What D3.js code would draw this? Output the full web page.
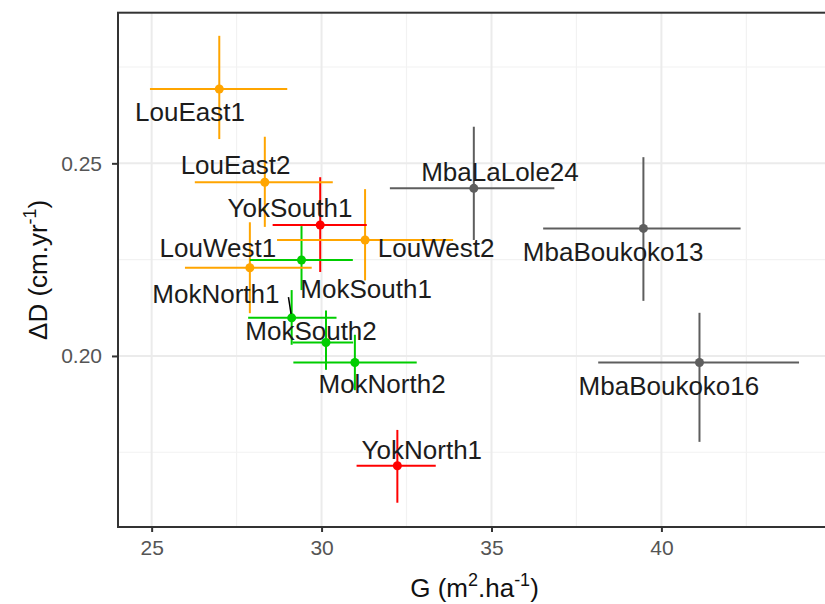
<!DOCTYPE html>
<meta charset="utf-8">
<style>
body { margin: 0; background: #fff; }
text { font-family: "Liberation Sans", Arial, sans-serif; }
</style>
<body>
<script src="https://d3js.org/d3.v7.min.js"></script>
<script>

var width = 825,
    height = 604;

// plot data
var sites  = ["LouEast1", "LouEast2", "YokSouth1", "LouWest2", "MokSouth1", "LouWest1", "MokNorth1",
              "MokSouth2", "MokNorth2", "YokNorth1", "MbaLaLole24", "MbaBoukoko13", "MbaBoukoko16"];
var groups = ["Lou", "Lou", "Yok", "Lou", "Mok", "Lou", "Mok", "Mok", "Mok", "Yok", "Mba", "Mba", "Mba"];
var gMean  = [26.99, 28.33, 29.96, 31.28, 29.41, 27.89, 29.12, 30.13, 30.98, 32.23, 34.48, 39.47, 41.12];
var gLow   = [24.95, 26.27, 28.56, 28.69, 27.89, 25.98, 27.84, 29.15, 29.17, 31.03, 32.01, 36.52, 38.14];
var gHigh  = [28.99, 30.33, 31.33, 33.87, 30.92, 29.71, 30.44, 30.93, 32.80, 33.36, 36.85, 42.33, 44.05];
var dMean  = [0.2693, 0.2451, 0.2340, 0.2301, 0.2249, 0.2229, 0.2099, 0.2035, 0.1983, 0.1715, 0.2435, 0.2331, 0.1983];
var dLow   = [0.2563, 0.2335, 0.2218, 0.2196, 0.2171, 0.2111, 0.2029, 0.1964, 0.1911, 0.1619, 0.2301, 0.2143, 0.1777];
var dHigh  = [0.2831, 0.2569, 0.2464, 0.2433, 0.2337, 0.2347, 0.2171, 0.2118, 0.2055, 0.1808, 0.2595, 0.2516, 0.2112];
// repelled label anchors (data units)
var labelG = [26.13, 27.47, 29.07, 33.37, 31.31, 26.95, 26.89, 29.69, 31.78, 32.95, 35.25, 38.58, 40.22];
var labelD = [0.2633, 0.2496, 0.2384, 0.2280, 0.2174, 0.2280, 0.2163, 0.2065, 0.1927, 0.1756, 0.2478, 0.2271, 0.1922];

var xTicks = [25, 30, 35, 40],
    xMinor = [27.5, 32.5, 37.5, 42.5],
    yTicks = [0.20, 0.25],
    yMinor = [0.175, 0.225, 0.275];

var groupColor = { Lou: "#FFA500", Mok: "#00CD00", Yok: "#FF0000", Mba: "#5e5e5e" };

var data = sites.map(function(s, i) {
  return { site: s, group: groups[i], g: gMean[i], g0: gLow[i], g1: gHigh[i],
           d: dMean[i], d0: dLow[i], d1: dHigh[i], lg: labelG[i], ld: labelD[i] };
});

var pLeft = 118, pTop = 12.7, pRight = 831, pBottom = 527;

var x = d3.scaleLinear().domain([24.01, 44.99]).range([pLeft, pRight]);
var y = d3.scaleLinear().domain([0.1556, 0.2891]).range([pBottom, pTop]);

var svg = d3.select("body").append("svg")
    .attr("width", width)
    .attr("height", height);

// grid
var grid = svg.append("g");
grid.selectAll(".xminor").data(xMinor).enter().append("line")
    .attr("x1", x).attr("x2", x).attr("y1", pTop).attr("y2", pBottom)
    .attr("stroke", "#f2f2f2").attr("stroke-width", 1.2);
grid.selectAll(".yminor").data(yMinor).enter().append("line")
    .attr("y1", y).attr("y2", y).attr("x1", pLeft).attr("x2", pRight)
    .attr("stroke", "#f2f2f2").attr("stroke-width", 1.2);
grid.selectAll(".xmajor").data(xTicks).enter().append("line")
    .attr("x1", x).attr("x2", x).attr("y1", pTop).attr("y2", pBottom)
    .attr("stroke", "#ebebeb").attr("stroke-width", 2);
grid.selectAll(".ymajor").data(yTicks).enter().append("line")
    .attr("y1", y).attr("y2", y).attr("x1", pLeft).attr("x2", pRight)
    .attr("stroke", "#ebebeb").attr("stroke-width", 2);

// error bars (vertical then horizontal)
var bars = svg.append("g").attr("stroke-width", 2);
bars.selectAll(".v").data(data).enter().append("line")
    .attr("x1", function(d) { return x(d.g); })
    .attr("x2", function(d) { return x(d.g); })
    .attr("y1", function(d) { return y(d.d0); })
    .attr("y2", function(d) { return y(d.d1); })
    .attr("stroke", function(d) { return groupColor[d.group]; });
bars.selectAll(".h").data(data).enter().append("line")
    .attr("x1", function(d) { return x(d.g0); })
    .attr("x2", function(d) { return x(d.g1); })
    .attr("y1", function(d) { return y(d.d); })
    .attr("y2", function(d) { return y(d.d); })
    .attr("stroke", function(d) { return groupColor[d.group]; });

svg.append("g").selectAll("circle").data(data).enter().append("circle")
    .attr("cx", function(d) { return x(d.g); })
    .attr("cy", function(d) { return y(d.d); })
    .attr("r", 4.5)
    .attr("fill", function(d) { return groupColor[d.group]; });

// labels + repel segments
var fs = 26;
var labs = svg.append("g");
var segs = labs.append("g");
labs.selectAll("text").data(data).enter().append("text")
    .attr("x", function(d) { return x(d.lg); })
    .attr("y", function(d) { return y(d.ld) + fs * 0.36; })
    .attr("text-anchor", "middle")
    .attr("font-size", fs)
    .attr("fill", "#1c1c1c")
    .text(function(d) { return d.site; })
    .each(function(d) {
      var b = this.getBBox(), pad = 9;
      var x0 = b.x - pad, x1 = b.x + b.width + pad;
      var cy = y(d.ld), y0 = cy - fs * 0.36 - pad, y1 = cy + fs * 0.36 + pad;
      var px = x(d.g), py = y(d.d);
      var sx, sy;
      if (px < x0 || px > x1) { sx = Math.max(x0, Math.min(x1, px)); sy = cy + 4; }
      else { sx = px; sy = Math.max(y0, Math.min(y1, py)); }
      var len = Math.hypot(px - sx, py - sy);
      if (len > 16) {
        var k = (len - 4) / len;
        segs.append("line")
            .attr("x1", sx).attr("y1", sy)
            .attr("x2", sx + (px - sx) * k).attr("y2", sy + (py - sy) * k)
            .attr("stroke", "#000").attr("stroke-width", 1.5);
      }
    });

// panel border
svg.append("rect")
    .attr("x", pLeft).attr("y", pTop)
    .attr("width", pRight - pLeft).attr("height", pBottom - pTop)
    .attr("fill", "none").attr("stroke", "#333").attr("stroke-width", 2);

// axes
var xAxis = svg.append("g").attr("transform", "translate(0," + pBottom + ")")
    .call(d3.axisBottom(x).tickValues(xTicks).tickSize(5).tickPadding(8).tickFormat(d3.format("d")));
var yAxis = svg.append("g").attr("transform", "translate(" + pLeft + ",0)")
    .call(d3.axisLeft(y).tickValues(yTicks).tickSize(6).tickPadding(10).tickFormat(d3.format(".2f")));
[xAxis, yAxis].forEach(function(a) {
  a.select(".domain").remove();
  a.selectAll(".tick line").attr("stroke", "#333").attr("stroke-width", 2);
  a.selectAll(".tick text").attr("fill", "#555").attr("font-size", 21)
      .attr("font-family", "Liberation Sans, Arial, sans-serif");
});

// axis titles
var xt = svg.append("text")
    .attr("x", (pLeft + pRight) / 2).attr("y", 597)
    .attr("text-anchor", "middle").attr("font-size", 26).attr("fill", "#111");
xt.append("tspan").text("G (m");
xt.append("tspan").attr("font-size", 18).attr("dy", -11).text("2");
xt.append("tspan").attr("dy", 11).text(".ha");
xt.append("tspan").attr("font-size", 18).attr("dy", -11).text("-1");
xt.append("tspan").attr("dy", 11).text(")");

var yt = svg.append("text")
    .attr("transform", "translate(47," + (pTop + pBottom) / 2 + ") rotate(-90)")
    .attr("text-anchor", "middle").attr("font-size", 26).attr("fill", "#111");
yt.append("tspan").text("\u0394D (cm.yr");
yt.append("tspan").attr("font-size", 18).attr("dy", -11).text("-1");
yt.append("tspan").attr("dy", 11).text(")");

</script>
</body>
